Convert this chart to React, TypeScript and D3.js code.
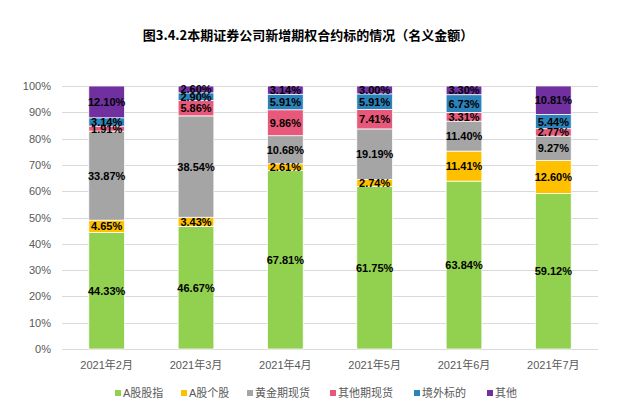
import React from "react";
import * as d3 from "d3";

const months = ["2021年2月", "2021年3月", "2021年4月", "2021年5月", "2021年6月", "2021年7月"];
const seriesNames = ["A股股指", "A股个股", "黄金期现货", "其他期现货", "境外标的", "其他"];
const aStockIndex = [44.33, 46.67, 67.81, 61.75, 63.84, 59.12];
const aStockSingle = [4.65, 3.43, 2.61, 2.74, 11.41, 12.6];
const goldSpot = [33.87, 38.54, 10.68, 19.19, 11.4, 9.27];
const otherSpot = [1.91, 5.86, 9.86, 7.41, 3.31, 2.77];
const overseas = [3.14, 2.9, 5.91, 5.91, 6.73, 5.44];
const others = [12.1, 2.6, 3.14, 3.0, 3.3, 10.81];
const yTicks = [0, 10, 20, 30, 40, 50, 60, 70, 80, 90, 100];
const colors = ["#92D050", "#FFC000", "#A5A5A5", "#E8587A", "#2B83BA", "#7030A0"];

const W = 617;
const H = 418;
const margin = { left: 62, right: 19, top: 86, bottom: 69 };

export default function App() {
  const series = [aStockIndex, aStockSingle, goldSpot, otherSpot, overseas, others];
  const rows = months.map((m, i) => {
    const r: any = { month: m };
    seriesNames.forEach((s, k) => (r[s] = series[k][i]));
    return r;
  });
  const stacked = d3.stack<any>().keys(seriesNames)(rows);
  const x = d3
    .scaleBand<string>()
    .domain(months)
    .range([margin.left, W - margin.right])
    .paddingInner(0.6)
    .paddingOuter(0.3);
  const y = d3.scaleLinear().domain([0, 100]).range([H - margin.bottom, margin.top]);
  const font = "'Liberation Sans', Arial, 'Noto Sans CJK SC', sans-serif";
  const legendX = [115, 181, 247, 330, 414, 487];

  return (
    <svg
      width={W}
      height={H}
      style={{ position: "absolute", left: 0, top: 0, background: "#fff" }}
      fontFamily={font}
    >
      <text
        x={308}
        y={40}
        textAnchor="middle"
        fontSize={13}
        fontWeight="bold"
        fontFamily="'Noto Sans CJK SC', sans-serif"
        fill="#000"
      >
        图3.4.2本期证券公司新增期权合约标的情况（名义金额）
      </text>
      {yTicks.map((t) => (
        <g key={t}>
          <line
            x1={margin.left}
            x2={W - margin.right}
            y1={Math.round(y(t)) + 0.5}
            y2={Math.round(y(t)) + 0.5}
            stroke="#D9D9D9"
            strokeWidth={1}
          />
          <text x={51} y={y(t) + 4} textAnchor="end" fontSize={11} fill="#595959">
            {t}%
          </text>
        </g>
      ))}
      {stacked.map((layer, k) =>
        layer.map((d, i) => (
          <rect
            key={`${k}-${i}`}
            x={x(months[i])}
            width={x.bandwidth()}
            y={y(d[1])}
            height={y(d[0]) - y(d[1])}
            fill={colors[k]}
            stroke="#fff"
            strokeWidth={0.75}
          />
        ))
      )}
      {stacked.map((layer, k) =>
        layer.map((d, i) => (
          <text
            key={`l${k}-${i}`}
            x={(x(months[i]) as number) + x.bandwidth() / 2}
            y={y((d[0] + d[1]) / 2) + 4}
            textAnchor="middle"
            fontSize={11}
            fontWeight="bold"
            fill="#000"
          >
            {series[k][i].toFixed(2)}%
          </text>
        ))
      )}
      {months.map((m) => (
        <text
          key={m}
          x={(x(m) as number) + x.bandwidth() / 2}
          y={369}
          textAnchor="middle"
          fontSize={11}
          fill="#595959"
          fontFamily="'Liberation Sans', 'Noto Sans CJK SC', sans-serif"
        >
          {m}
        </text>
      ))}
      {seriesNames.map((s, k) => (
        <g key={s}>
          <rect x={legendX[k]} y={390} width={6} height={6} fill={colors[k]} />
          <text
            x={legendX[k] + 8}
            y={397}
            fontSize={11}
            fill="#595959"
            fontFamily="'Liberation Sans', 'Noto Sans CJK SC', sans-serif"
          >
            {s}
          </text>
        </g>
      ))}
    </svg>
  );
}
